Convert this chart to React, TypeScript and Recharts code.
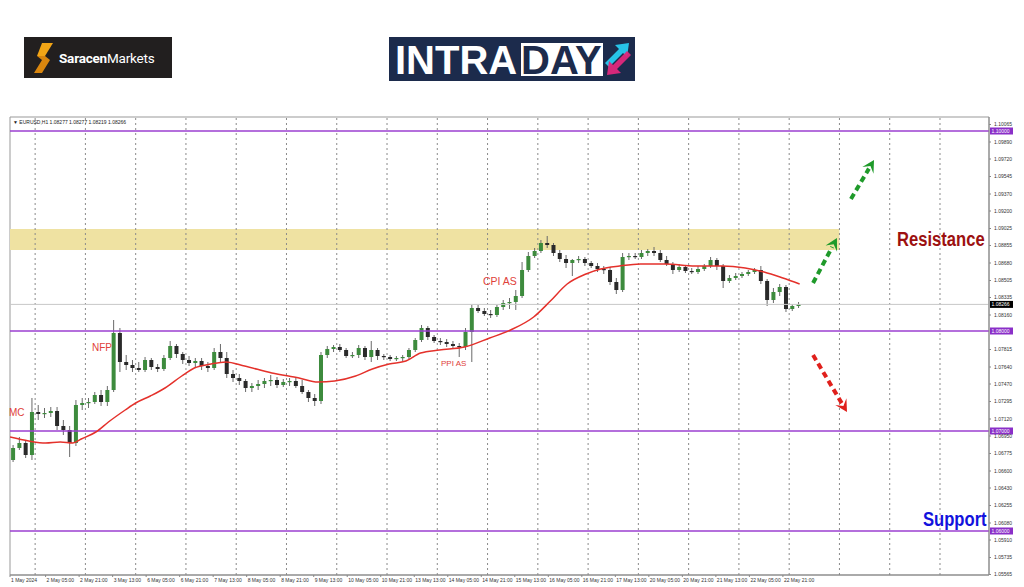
import React from 'react';
import { ComposedChart, Bar, Line, XAxis, YAxis, ReferenceLine, ReferenceArea } from 'recharts';

// 3-hour candles (EURUSD), starting 1 May 2024 12:00
const opens = [
  1.0671,1.0683,1.0688,1.0676,1.0719,1.0717,1.0718,1.0720,1.0705,1.0701,
  1.0688,1.0726,1.0728,1.0729,1.0736,1.0729,1.0741,1.0798,1.0769,1.0766,
  1.0763,1.0761,1.0771,1.0764,1.0762,1.0773,1.0785,1.0777,1.0771,1.0768,
  1.0770,1.0765,1.0763,1.0779,1.0773,1.0757,1.0753,1.0750,1.0743,1.0745,
  1.0747,1.0750,1.0751,1.0746,1.0749,1.0750,1.0745,1.0739,1.0733,1.0730,
  1.0776,1.0782,1.0784,1.0781,1.0775,1.0776,1.0783,1.0774,1.0781,1.0775,
  1.0774,1.0772,1.0773,1.0774,1.0781,1.0791,1.0803,1.0794,1.0790,1.0789,
  1.0787,1.0785,1.0784,1.0799,1.0823,1.0820,1.0817,1.0816,1.0824,1.0828,
  1.0829,1.0835,1.0861,1.0875,1.0880,1.0888,1.0886,1.0878,1.0872,1.0868,
  1.0871,1.0872,1.0868,1.0865,1.0862,1.0861,1.0849,1.0841,1.0874,1.0875,
  1.0874,1.0878,1.0880,1.0878,1.0871,1.0867,1.0861,1.0864,1.0860,1.0859,
  1.0862,1.0865,1.0871,1.0865,1.0850,1.0853,1.0855,1.0857,1.0859,1.0861,
  1.0850,1.0831,1.0839,1.0844,1.0822,1.0825,
];
const highs = [
  1.0686,1.0694,1.0691,1.0733,1.0726,1.0723,1.0724,1.0724,1.0711,1.0705,
  1.0731,1.0733,1.0733,1.0739,1.0741,1.0745,1.0811,1.0803,1.0776,1.0771,
  1.0769,1.0774,1.0773,1.0767,1.0776,1.0790,1.0787,1.0779,1.0775,1.0773,
  1.0773,1.0769,1.0783,1.0787,1.0779,1.0761,1.0757,1.0752,1.0748,1.0751,
  1.0753,1.0756,1.0754,1.0752,1.0753,1.0754,1.0751,1.0741,1.0737,1.0779,
  1.0785,1.0786,1.0787,1.0783,1.0779,1.0786,1.0785,1.0790,1.0783,1.0777,
  1.0776,1.0775,1.0776,1.0783,1.0793,1.0806,1.0805,1.0796,1.0793,1.0792,
  1.0790,1.0788,1.0803,1.0826,1.0826,1.0823,1.0821,1.0826,1.0831,1.0833,
  1.0841,1.0869,1.0879,1.0883,1.0891,1.0895,1.0888,1.0881,1.0876,1.0872,
  1.0875,1.0874,1.0870,1.0868,1.0865,1.0864,1.0853,1.0878,1.0878,1.0878,
  1.0881,1.0882,1.0884,1.0881,1.0875,1.0869,1.0867,1.0866,1.0863,1.0865,
  1.0867,1.0874,1.0873,1.0867,1.0856,1.0858,1.0859,1.0861,1.0863,1.0865,
  1.0852,1.0843,1.0847,1.0846,1.0827,1.0829,
];
const lows = [
  1.0669,1.0681,1.0673,1.0671,1.0711,1.0713,1.0714,1.0701,1.0696,1.0674,
  1.0685,1.0721,1.0723,1.0727,1.0725,1.0725,1.0739,1.0759,1.0761,1.0759,
  1.0759,1.0759,1.0761,1.0759,1.0760,1.0771,1.0773,1.0767,1.0765,1.0763,
  1.0761,1.0759,1.0761,1.0769,1.0753,1.0749,1.0746,1.0739,1.0739,1.0741,
  1.0743,1.0745,1.0743,1.0744,1.0745,1.0743,1.0737,1.0729,1.0725,1.0727,
  1.0773,1.0779,1.0779,1.0773,1.0773,1.0773,1.0771,1.0769,1.0771,1.0771,
  1.0770,1.0770,1.0770,1.0771,1.0779,1.0789,1.0791,1.0788,1.0786,1.0784,
  1.0783,1.0774,1.0781,1.0769,1.0818,1.0815,1.0813,1.0814,1.0821,1.0822,
  1.0821,1.0833,1.0859,1.0873,1.0878,1.0883,1.0875,1.0869,1.0863,1.0855,
  1.0868,1.0865,1.0863,1.0859,1.0857,1.0846,1.0837,1.0839,1.0871,1.0872,
  1.0872,1.0875,1.0875,1.0869,1.0865,1.0857,1.0859,1.0858,1.0857,1.0857,
  1.0860,1.0863,1.0861,1.0843,1.0848,1.0851,1.0853,1.0855,1.0857,1.0847,
  1.0825,1.0828,1.0835,1.0819,1.0820,1.0823,
];
const closes = [
  1.0683,1.0688,1.0676,1.0719,1.0717,1.0718,1.0720,1.0705,1.0701,1.0688,
  1.0726,1.0728,1.0729,1.0736,1.0729,1.0741,1.0798,1.0769,1.0766,1.0763,
  1.0761,1.0771,1.0764,1.0762,1.0773,1.0785,1.0777,1.0771,1.0768,1.0770,
  1.0765,1.0763,1.0779,1.0773,1.0757,1.0753,1.0750,1.0743,1.0745,1.0747,
  1.0750,1.0751,1.0746,1.0749,1.0750,1.0745,1.0739,1.0733,1.0730,1.0776,
  1.0782,1.0784,1.0781,1.0775,1.0776,1.0783,1.0774,1.0781,1.0775,1.0774,
  1.0772,1.0773,1.0774,1.0781,1.0791,1.0803,1.0794,1.0790,1.0789,1.0787,
  1.0785,1.0784,1.0799,1.0823,1.0820,1.0817,1.0816,1.0824,1.0828,1.0829,
  1.0835,1.0861,1.0875,1.0880,1.0888,1.0886,1.0878,1.0872,1.0868,1.0871,
  1.0872,1.0868,1.0865,1.0862,1.0861,1.0849,1.0841,1.0874,1.0875,1.0874,
  1.0878,1.0880,1.0878,1.0871,1.0867,1.0861,1.0864,1.0860,1.0859,1.0862,
  1.0865,1.0871,1.0865,1.0850,1.0853,1.0855,1.0857,1.0859,1.0861,1.0850,
  1.0831,1.0839,1.0844,1.0822,1.0825,1.08266,
];
const hoursPerCandle = 3;

// moving average (red line), read at these bar positions
const maBars = [0, 9, 17, 24, 30, 34, 41, 47, 55, 60, 67, 74, 82, 88, 96, 103, 112, 125, 138, 147, 155, 165, 173, 181, 189, 196, 205, 217, 229, 239, 250, 258, 266, 275, 282, 291, 301, 313, 327, 340, 351, 360, 369, 377];
const maValues = [1.0694, 1.0690, 1.0688, 1.0689, 1.0688, 1.0692, 1.0699, 1.0709, 1.0721, 1.0728, 1.0735, 1.0743, 1.0755, 1.0763, 1.0767, 1.0769, 1.0765, 1.0758, 1.0753, 1.0749, 1.0750, 1.0755, 1.0762, 1.0767, 1.0770, 1.0778, 1.0781, 1.0784, 1.0793, 1.0801, 1.0814, 1.0830, 1.0847, 1.0857, 1.0862, 1.0865, 1.0867, 1.0867, 1.0865, 1.0865, 1.0863, 1.0859, 1.0853, 1.0847];

const xTickBars = [0, 17, 33, 49, 65, 81, 97, 113, 129, 145, 161, 177, 193, 209, 225, 241, 257, 273, 289, 305, 321, 337, 353, 369];
const xTickLabels = ['1 May 2024', '2 May 05:00', '2 May 21:00', '3 May 13:00', '6 May 05:00', '6 May 21:00', '7 May 13:00', '8 May 05:00', '8 May 21:00', '9 May 13:00', '10 May 05:00', '10 May 21:00', '13 May 13:00', '14 May 05:00', '14 May 21:00', '15 May 13:00', '16 May 05:00', '16 May 21:00', '17 May 13:00', '20 May 05:00', '20 May 21:00', '21 May 13:00', '22 May 05:00', '22 May 21:00'];
const dayGridBars = [12, 36, 60, 84, 108, 132, 156, 180, 204, 228, 252, 276, 300, 324, 348, 372, 396, 420, 444];
const xDomain: [number, number] = [0, 467.4];

const yTicks = [1.10065, 1.0989, 1.0972, 1.09545, 1.0937, 1.092, 1.09025, 1.08855, 1.0868, 1.08505, 1.08335, 1.0816, 1.07815, 1.0764, 1.0747, 1.07295, 1.0712, 1.0695, 1.06775, 1.066, 1.0643, 1.06255, 1.0608, 1.0591, 1.05735, 1.05565];
const yDomain: [number, number] = [1.0556, 1.1014];

const levels = [1.1, 1.08, 1.07, 1.06];
const currentPrice = 1.08266;
const zoneLow = 1.0881;
const zoneHigh = 1.0902;
const zoneEndBar = 396;

const upArrows = [
  [{ x: 383.4, y: 1.0848 }, { x: 394.8, y: 1.0893 }],
  [{ x: 401.5, y: 1.0932 }, { x: 412.5, y: 1.0971 }],
];
const downArrows = [
  [{ x: 383.4, y: 1.0776 }, { x: 399.6, y: 1.0719 }],
];

const candles = opens.map((o, i) => ({
  b: hoursPerCandle * i + 1.5,
  open: o,
  high: highs[i],
  low: lows[i],
  close: closes[i],
  range: [lows[i], highs[i]],
}));
const maData = maBars.map((b, i) => ({ b, ma: maValues[i] }));

const AXIS_FONT = '"Liberation Sans", Arial, sans-serif';

const Candle = (props: any) => {
  const { x, y, width, height, payload } = props;
  if (x == null || y == null || !payload) return null;
  const { open, close, high, low } = payload;
  const top = Math.min(y, y + height);
  const h = Math.abs(height);
  const ratio = high - low > 0 ? h / (high - low) : 0;
  const cx = x + width / 2;
  const yO = top + (high - open) * ratio;
  const yC = top + (high - close) * ratio;
  const bull = close >= open;
  const bodyTop = Math.min(yO, yC);
  const bodyH = Math.max(1.2, Math.abs(yO - yC));
  return (
    <g>
      <line x1={cx} x2={cx} y1={top} y2={top + h} stroke="#6a6a6a" strokeWidth={1} />
      <rect x={cx - 2} y={bodyTop} width={4} height={bodyH} fill={bull ? '#3d8b3d' : '#2a2a2a'} />
    </g>
  );
};

const XTick = (props: any) => {
  const { x, y, payload } = props;
  const idx = xTickBars.indexOf(payload.value);
  return (
    <text x={x + 1} y={y + 3} fontSize={5} fill="#333" fontFamily={AXIS_FONT} textAnchor="start">
      {xTickLabels[idx]}
    </text>
  );
};

const YTick = (props: any) => {
  const { x, y, payload } = props;
  return (
    <text x={x + 1} y={y + 1.8} fontSize={5} fill="#333" fontFamily={AXIS_FONT} textAnchor="start">
      {Number(payload.value).toFixed(5)}
    </text>
  );
};

const LevelTag = (props: any) => {
  const { viewBox, text, bg } = props;
  if (!viewBox) return null;
  const right = viewBox.x + viewBox.width;
  const cy = viewBox.y;
  return (
    <g>
      <rect x={right + 1} y={cy - 3.5} width={23} height={7} fill={bg} />
      <text x={right + 2.5} y={cy + 1.8} fontSize={5} fill="#fff" fontFamily={AXIS_FONT}>{text}</text>
    </g>
  );
};

const makeArrow = (color: string) => (props: any) => {
  const { x1, y1, x2, y2 } = props;
  if ([x1, y1, x2, y2].some((v) => v == null || isNaN(v))) return <g />;
  const dx = x2 - x1;
  const dy = y2 - y1;
  const len = Math.sqrt(dx * dx + dy * dy) || 1;
  const ux = dx / len;
  const uy = dy / len;
  const px = -uy;
  const py = ux;
  const headLen = 12;
  const headW = 6.5;
  const bx = x2 - ux * headLen;
  const by = y2 - uy * headLen;
  const lx = x2 - ux * (headLen - 2);
  const ly = y2 - uy * (headLen - 2);
  const nx = x2 - ux * (headLen - 5);
  const ny = y2 - uy * (headLen - 5);
  return (
    <g>
      <line x1={x1} y1={y1} x2={lx} y2={ly} stroke={color} strokeWidth={4} strokeDasharray="6 4" />
      <polygon
        points={`${x2},${y2} ${bx + px * headW},${by + py * headW} ${nx},${ny} ${bx - px * headW},${by - py * headW}`}
        fill={color}
      />
    </g>
  );
};

const SaracenLogo = () => (
  <div style={{ position: 'absolute', left: 24, top: 37, width: 148, height: 41, background: '#221f1f', display: 'flex', alignItems: 'center' }}>
    <svg width={22} height={30} style={{ marginLeft: 9 }} viewBox="0 0 22 30">
      <polygon points="9,0 20,0 12,13 4,13" fill="#f2a516" />
      <polygon points="4,13 12,13 17,17 9,30 1,30 9,17" fill="#d9860e" />
    </svg>
    <span style={{ color: '#fff', fontFamily: 'Roboto, "Liberation Sans", sans-serif', fontSize: 13.5, marginLeft: 4, letterSpacing: -0.2 }}>
      <b style={{ fontWeight: 700 }}>Saracen</b>Markets
    </span>
  </div>
);

const IntradayLogo = () => (
  <div style={{ position: 'absolute', left: 389, top: 37, width: 246, height: 44, background: '#1c2b4c' }}>
    <div style={{ position: 'absolute', left: 6, top: 1, color: '#fff', fontFamily: '"Liberation Sans", Arial, sans-serif', fontWeight: 700, fontSize: 40, lineHeight: '44px' }}>INTRA</div>
    <div style={{ position: 'absolute', left: 132, top: 6, width: 82, height: 33, background: '#fff' }} />
    <div style={{ position: 'absolute', left: 132, top: 1, color: '#1c2b4c', fontFamily: '"Liberation Sans", Arial, sans-serif', fontWeight: 700, fontSize: 40, lineHeight: '44px' }}>DAY</div>
    <svg style={{ position: 'absolute', left: 214, top: 4 }} width={30} height={36} viewBox="0 0 30 36">
      <polygon points="2,22 16,8 12,4 26,2 24,16 20,12 6,26" fill="#27c3e8" />
      <polygon points="28,14 14,28 18,32 4,34 6,20 10,24 24,10" fill="#e0287c" opacity={0.95} />
    </svg>
  </div>
);

const annot = (text: string, left: number, top: number, size: number, color: string, extra: any = {}) => (
  <div style={{ position: 'absolute', left, top, fontSize: size, color, fontFamily: '"Liberation Sans", Arial, sans-serif', lineHeight: 1, whiteSpace: 'nowrap', ...extra }}>{text}</div>
);

const bigLabel = { fontWeight: 700, transform: 'scaleX(0.83)', transformOrigin: '0 50%' };

export default function App() {
  return (
    <div style={{ position: 'absolute', left: 0, top: 0, width: 1024, height: 587, background: '#fff', overflow: 'hidden' }}>
      <SaracenLogo />
      <IntradayLogo />
      <div style={{ position: 'absolute', left: 0, top: 0 }}>
        <ComposedChart width={1024} height={587} data={candles} margin={{ top: 117, right: 0, bottom: 0, left: 10 }}>
          <XAxis
            dataKey="b"
            type="number"
            domain={xDomain}
            ticks={xTickBars}
            tick={<XTick />}
            height={12}
            tickSize={2}
            axisLine={{ stroke: '#888' }}
            tickLine={{ stroke: '#888' }}
            interval={0}
            allowDataOverflow
          />
          <YAxis
            orientation="right"
            type="number"
            domain={yDomain}
            ticks={yTicks}
            tick={<YTick />}
            width={35}
            tickSize={2}
            axisLine={{ stroke: '#888' }}
            tickLine={{ stroke: '#888' }}
            interval={0}
            allowDataOverflow
          />
          <ReferenceArea x1={xDomain[0]} x2={xDomain[1]} y1={yDomain[0]} y2={yDomain[1]} fill="none" stroke="#999" strokeWidth={1} ifOverflow="extendDomain" />
          <ReferenceArea x1={0} x2={zoneEndBar} y1={zoneLow} y2={zoneHigh} fill="#efe2a2" fillOpacity={1} stroke="none" />
          {dayGridBars.map((b) => (
            <ReferenceLine key={'g' + b} x={b} stroke="#8a8a8a" strokeDasharray="2 3" strokeWidth={1} />
          ))}
          <ReferenceLine y={currentPrice} stroke="#c8c8c8" strokeWidth={1} label={<LevelTag text={currentPrice.toFixed(5)} bg="#000" />} />
          {levels.map((lv) => (
            <ReferenceLine key={'l' + lv} y={lv} stroke="#9b3fd1" strokeWidth={1.6} label={<LevelTag text={lv.toFixed(5)} bg="#8a2fc8" />} />
          ))}
          <Bar dataKey="range" barSize={4} shape={<Candle />} isAnimationActive={false} />
          <Line data={maData} dataKey="ma" type="monotone" stroke="#e4312b" strokeWidth={1.5} dot={false} isAnimationActive={false} />
          {upArrows.map((seg, i) => (
            <ReferenceLine key={'ua' + i} segment={seg} shape={makeArrow('#1f9a2a')} ifOverflow="visible" />
          ))}
          {downArrows.map((seg, i) => (
            <ReferenceLine key={'da' + i} segment={seg} shape={makeArrow('#e0201c')} ifOverflow="visible" />
          ))}
        </ComposedChart>
      </div>
      {annot('▼ EURUSD,H1  1.08277 1.08277 1.08219 1.08266', 13, 119.5, 5, '#222')}
      {annot('MC', 9, 407.5, 10, '#e0413a')}
      {annot('NFP', 92, 342.5, 10, '#e0413a')}
      {annot('CPI AS', 483, 276, 10.5, '#e0413a')}
      {annot('PPI AS', 441, 360, 8, '#e0413a')}
      {annot('Resistance', 897, 229, 20, '#9c1010', bigLabel)}
      {annot('Support', 923, 509, 20, '#1212dd', bigLabel)}
    </div>
  );
}
